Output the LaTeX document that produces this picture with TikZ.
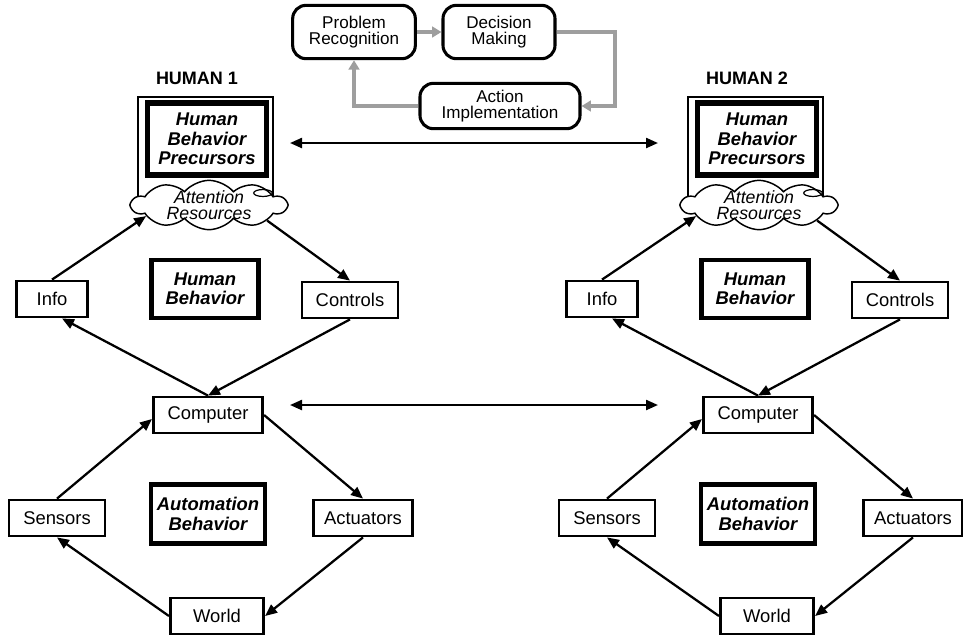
\documentclass[tikz,border=0pt]{standalone}
\usepackage{fontspec}
\setmainfont{Liberation Sans}
\usetikzlibrary{arrows.meta, shapes.symbols}

\begin{document}
\begin{tikzpicture}[x=0.75pt, y=-0.75pt,
    box/.style={draw, line width=2.1pt, fill=white, inner sep=2pt,
      font=\fontsize{13.8}{14}\selectfont, minimum height=27pt},
    behav/.style={draw, line width=3.3pt, align=center, inner sep=2pt,
      font=\fontsize{13.8}{14.5}\selectfont\bfseries\itshape},
    stage/.style={draw, line width=2.3pt, rounded corners=10pt, align=center,
      inner sep=2pt, font=\fontsize{12.8}{11.5}\selectfont},
    arr/.style={line width=1.7pt, -{Triangle[length=9pt,width=7.5pt]}},
    darr/.style={line width=1.7pt, {Triangle[length=9pt,width=7.5pt]}-{Triangle[length=9pt,width=7.5pt]}},
    loop/.style={line width=3pt, draw=black!38, -{Triangle[length=7pt,width=8pt]}}]
  \useasboundingbox (0,0) rectangle (963,637);

  % decision cycle
  \node[stage, minimum width=92pt, minimum height=40pt] (prob) at (354,32) {Problem\\Recognition};
  \node[stage, minimum width=84pt, minimum height=40pt] (dec) at (499,32) {Decision\\Making};
  \node[stage, minimum width=120pt, minimum height=34pt] (impl) at (500,106) {Action\\Implementation};
  \draw[loop] (prob.east) -- (dec.west);
  \draw[loop] (dec.east) -- ++(58,0) |- (impl.east);
  \draw[loop] (impl.west) -| (prob.south);

  % the two humans
  \foreach \s/\dx in {1/0, 2/550} {
    \begin{scope}[shift={(\dx,0)}]
      \node[font=\fontsize{13.5}{14}\selectfont\bfseries] (human\s) at (197,78) {HUMAN \s};
      \draw[line width=2.2pt] (138,200) rectangle (273,97);
      \node[behav, line width=4pt, minimum width=89pt, minimum height=54pt] (prec\s) at (207,139) {Human\\Behavior\\Precursors};
      \node[cloud, cloud puffs=10, cloud puff arc=100, cloud ignores aspect, draw, fill=white,
        line width=1.1pt, minimum width=116pt, minimum height=37pt, inner sep=0pt] (att\s) at (209,205) {};
      \node[align=center, inner sep=0pt, font=\fontsize{13.3}{12}\selectfont\itshape] (attlbl\s) at (att\s) {Attention\\Resources};
      \draw[line width=0.9pt] ([shift={(54,-12)}]att\s.center) ellipse [x radius=7pt, y radius=2.6pt];

      \node[box, minimum width=53pt] (info\s) at (52,299) {Info};
      \node[behav, minimum width=80pt, minimum height=43.5pt] (hb\s) at (205,289) {Human\\Behavior};
      \node[box, minimum width=72pt] (ctrl\s) at (350,300) {Controls};
      \node[box, minimum width=82pt] (comp\s) at (208,415) {Computer};
      \node[box, minimum width=72pt] (sens\s) at (57,518) {Sensors};
      \node[behav, minimum width=85.5pt, minimum height=44pt] (ab\s) at (208,514) {Automation\\Behavior};
      \node[box, minimum width=74pt] (act\s) at (363,518) {Actuators};
      \node[box, minimum width=70pt] (world\s) at (217,616) {World};

      \draw[arr] (info\s.north) -- (att\s.190);
      \draw[arr] (att\s.-15) -- (ctrl\s.north);
      \draw[arr] (ctrl\s.south) -- (comp\s.north);
      \draw[arr] (comp\s.north) -- ([xshift=7.5pt]info\s.south);
      \draw[arr] (sens\s.north) -- ([yshift=-3pt]comp\s.west);
      \draw[arr] (comp\s.east) -- (act\s.north);
      \draw[arr] (act\s.south) -- (world\s.east);
      \draw[arr] (world\s.west) -- (sens\s.south);
    \end{scope}
  }

  % links between the humans
  \coordinate (topL) at (290,143);
  \coordinate (topR) at (658,143);
  \coordinate (midL) at (290,405);
  \coordinate (midR) at (658,405);
  \draw[darr] (topL) -- (topR);
  \draw[darr] (midL) -- (midR);
\end{tikzpicture}
\end{document}
